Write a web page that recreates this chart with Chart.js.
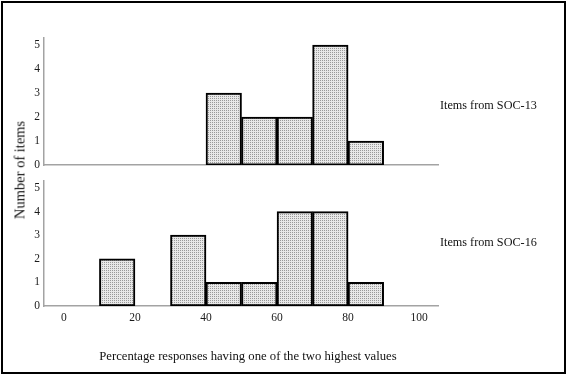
<!DOCTYPE html>
<html>
<head>
<meta charset="utf-8">
<script src="https://cdn.jsdelivr.net/npm/chart.js@4/dist/chart.umd.min.js"></script>
<style>
  body { margin: 0; background: #fff; }
  #wrap { position: relative; width: 569px; height: 376px; font-family: "Liberation Serif", "Times New Roman", serif; color: #111; }
  #frame { position: absolute; left: 1px; top: 1px; width: 561px; height: 369px; border: 2px solid #000; }
  canvas { position: absolute; left: 0; }
  .lbl { position: absolute; white-space: nowrap; font-size: 12.2px; transform: translateY(-50%); }
  #ytitle { position: absolute; left: 20px; top: 170px; font-size: 14.5px; white-space: nowrap; transform: translate(-50%, -50%) rotate(-90deg); }
  #xtitle { position: absolute; left: 248px; top: 356px; font-size: 12.7px; white-space: nowrap; transform: translate(-50%, -50%); }
</style>
</head>
<body>
<div id="wrap">
  <div id="frame"></div>
  <canvas id="top" width="569" height="176" style="top:0"></canvas>
  <canvas id="bottom" width="569" height="206" style="top:170px"></canvas>
  <div class="lbl" style="left:440px;top:105px">Items from SOC-13</div>
  <div class="lbl" style="left:440px;top:242px">Items from SOC-16</div>
  <div id="ytitle">Number of items</div>
  <div id="xtitle">Percentage responses having one of the two highest values</div>
</div>
<script>
// bins of width 10, given by their lower edge
const binStarts = [0, 10, 20, 30, 40, 50, 60, 70, 80, 90];
const soc13Counts = [0, 0, 0, 0, 3, 2, 2, 5, 1, 0];
const soc16Counts = [0, 2, 0, 3, 1, 1, 4, 4, 1, 0];
const xTicks = [0, 20, 40, 60, 80, 100];
const yTicks = [0, 1, 2, 3, 4, 5];

const serif = "'Liberation Serif', 'Times New Roman', serif";

function dotted() {
    const c = document.createElement("canvas");
    c.width = 2; c.height = 2;
    const g = c.getContext("2d");
    g.fillStyle = "#e8e8e8";
    g.fillRect(0, 0, 2, 2);
    g.fillStyle = "#999";
    g.fillRect(0, 0, 1, 1);
    return g.createPattern(c, "repeat");
}

function histData(counts) {
    return binStarts.map((b, i) => ({ x: b + 5, y: counts[i] > 0 ? counts[i] : null }));
}

function makeChart(id, counts, opts) {
    return new Chart(document.getElementById(id), {
        type: "bar",
        data: {
            datasets: [{
                data: histData(counts),
                backgroundColor: dotted(),
                borderColor: "#000",
                borderWidth: 2,
                borderSkipped: false,
                barPercentage: 1,
                categoryPercentage: 1,
                grouped: false,
            }],
        },
        options: {
            responsive: false,
            animation: false,
            layout: { padding: { top: opts.padTop, right: 131, left: 0, bottom: 0 } },
            plugins: { legend: { display: false }, tooltip: { enabled: false } },
            scales: {
                x: {
                    type: "linear",
                    offset: false,
                    min: -5.6,
                    max: 105.3,
                    grid: { display: false, drawTicks: false },
                    border: { display: true, color: "#a3a3a3", width: 1.5 },
                    ticks: {
                        display: opts.showX,
                        padding: 5,
                        color: "#1a1a1a",
                        font: { family: serif, size: 11.5 },
                    },
                    afterBuildTicks: (axis) => {
                        axis.ticks = xTicks.map((v) => ({ value: v }));
                    },
                    afterFit: (axis) => { axis.height = opts.xHeight; },
                },
                y: {
                    min: 0,
                    max: 5.3,
                    grid: { display: false, drawTicks: false },
                    border: { display: true, color: "#a3a3a3", width: 1.5 },
                    ticks: {
                        padding: 4,
                        color: "#1a1a1a",
                        font: { family: serif, size: 11.5 },
                    },
                    afterBuildTicks: (axis) => {
                        axis.ticks = yTicks.map((v) => ({ value: v }));
                    },
                    afterFit: (axis) => { axis.width = 44; },
                },
            },
        },
    });
}

makeChart("top", soc13Counts, { padTop: 38, showX: false, xHeight: 7 });
makeChart("bottom", soc16Counts, { padTop: 4, showX: true, xHeight: 70 });
</script>
</body>
</html>
